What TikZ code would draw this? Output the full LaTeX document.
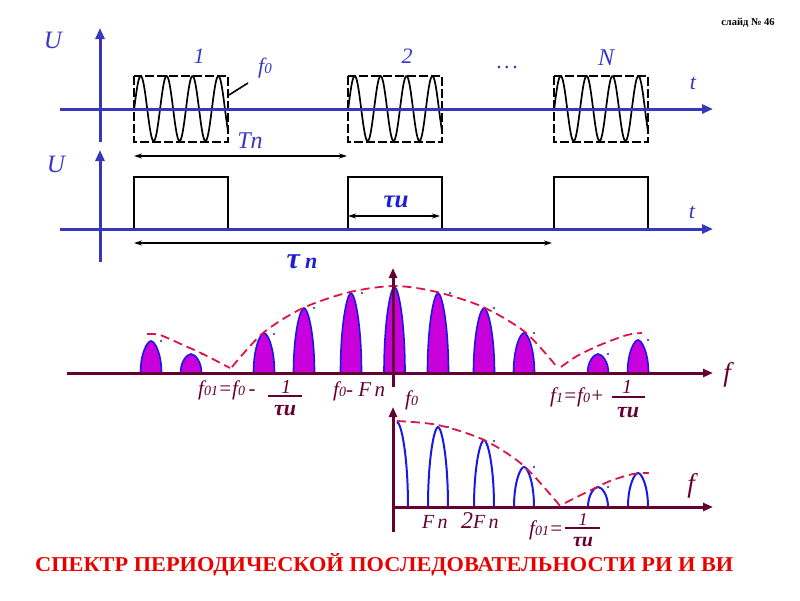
\documentclass[tikz,border=0pt]{standalone}
\usepackage{fontspec}
\usepackage{graphicx}
\setmainfont{Liberation Serif}
\usetikzlibrary{arrows.meta}

\definecolor{axblue}{RGB}{55,55,190}
\definecolor{lblue}{RGB}{55,55,200}
\definecolor{txtblue}{RGB}{30,30,210}
\definecolor{maroon}{RGB}{100,0,50}
\definecolor{lobefill}{RGB}{200,0,220}
\definecolor{lobeline}{RGB}{25,25,230}
\definecolor{envred}{RGB}{220,20,70}
\definecolor{titlered}{RGB}{235,0,0}

\newcommand\fs[1]{\fontsize{#1}{#1}\selectfont}

\begin{document}
\begin{tikzpicture}[x=1pt,y=-1pt,
  baxis/.style={draw=axblue, line width=3pt, -{Triangle[length=11pt,width=9pt]}},
  maxis/.style={draw=maroon, line width=3pt, -{Triangle[length=10pt,width=8pt]}},
  dimarrow/.style={draw=black, line width=1.4pt, {Stealth[length=8pt,width=5pt]}-{Stealth[length=8pt,width=5pt]}},
  dashbox/.style={draw=black, line width=2pt, dash pattern=on 9pt off 3pt},
  solidbox/.style={draw=black, line width=2pt},
  wave/.style={draw=black, line width=1.7pt},
  blab/.style={text=lblue, font=\fs{22}\itshape, inner sep=0pt, anchor=base},
  taulab/.style={text=txtblue, font=\fs{26}\bfseries\itshape, inner sep=0pt, anchor=base},
  mlab/.style={text=maroon, font=\fs{21}\itshape, inner sep=0pt, anchor=base west},
  mfrac/.style={text=maroon, font=\fs{20}\itshape, inner sep=0pt, anchor=base},
  mtau/.style={text=maroon, font=\fs{22}\bfseries\itshape, inner sep=0pt, anchor=base},
  bar/.style={draw=maroon, line width=1.5pt},
  env/.style={draw=envred, line width=1.8pt, dash pattern=on 9pt off 5pt},
  flobe/.style={fill=lobefill, draw=lobeline, line width=1.6pt},
  olobe/.style={draw=lobeline, line width=2pt},
  dotm/.style={fill=lobeline, draw=none},
]
\useasboundingbox (0,0) rectangle (800,600);

% ---------- top: radio pulses ----------
\foreach \L in {134,348,554} {
  \begin{scope}
    \clip (\L,74) rectangle (\L+94,144);
    \draw[wave] plot[domain=\L:\L+94, samples=140] (\x, {108.5-32.5*cos(13.9*(\x-\L-6.7))});
  \end{scope}
  \draw[dashbox] (\L,76) rectangle (\L+94,142);
}
\coordinate (ax1b) at (100,142); \coordinate (ax1t) at (100,28);
\coordinate (ax1l) at (60,109);  \coordinate (ax1r) at (713,109);
\draw[baxis] (ax1b) -- (ax1t);
\draw[baxis] (ax1l) -- (ax1r);

\coordinate (lA) at (229,95); \coordinate (lB) at (248,83);
\draw[line width=1.6pt] (lA) -- (lB);

\node[blab, font=\fs{25}\itshape] (U1) at (53,48) {U};
\node[blab] (n1) at (199,63) {1};
\node[blab] (n2) at (407,63) {2};
\node[blab, font=\fs{24}\itshape] (nN) at (606,65) {N};
\node[blab, font=\fs{22}] (dots) at (507,68) {.\hspace{2.5pt}.\hspace{2.5pt}.};
\node[blab] (t1) at (693,89) {t};
\node[blab, anchor=base west] (f0top) at (258,73) {f{\fs{15}0}};
\node[blab, font=\fs{24}\itshape] (Tn) at (250,148) {Tn};

\coordinate (TnA) at (134,156); \coordinate (TnB) at (347,156);
\draw[dimarrow] (TnA) -- (TnB);

% ---------- middle: video pulses ----------
\foreach \L in {134,348,554} {
  \draw[solidbox] (\L,177) rectangle (\L+94,229);
}
\coordinate (ax2b) at (100,262); \coordinate (ax2t) at (100,150);
\coordinate (ax2l) at (60,229);  \coordinate (ax2r) at (713,229);
\draw[baxis] (ax2b) -- (ax2t);
\draw[baxis] (ax2l) -- (ax2r);

\coordinate (tuA) at (348,216); \coordinate (tuB) at (440,216);
\draw[dimarrow] (tuA) -- (tuB);
\coordinate (tnA) at (134,243); \coordinate (tnB) at (552,243);
\draw[dimarrow] (tnA) -- (tnB);

\node[blab, font=\fs{25}\itshape] (U2) at (56,172) {U};
\node[blab] (t2) at (692,218) {t};
\node[taulab, font=\fs{25}\bfseries\itshape] (tauu) at (396,207) {τи};
\node[taulab, font=\fs{30}\bfseries\itshape] (taun) at (302,268) {τ\,{\fs{22}n}};

% ---------- spectrum of radio pulses ----------
\foreach \c/\t in {151/341,191/354,264/333,304/308,351/293,394.5/287,438/293,484/308,524/333,598/354,638/340} {
  \filldraw[flobe] ({\c-10.5},373) .. controls ({\c-10.5},{373-0.62*(373-\t)}) and ({\c-3.8},\t) .. (\c,\t)
     .. controls ({\c+3.8},\t) and ({\c+10.5},{373-0.62*(373-\t)}) .. ({\c+10.5},373);
}
\foreach \p in {(161,341),(202,354),(274,334),(314,308),(362,293),(450,293),(494,308),(534,333),(608,354),(648,340)} {
  \fill[dotm] \p circle (1.2);
}
\draw[env] plot[smooth] coordinates {(147,334) (160,335) (183,345) (203,354) (230,368)};
\draw[env] plot[smooth] coordinates {(232,367) (263,333) (303,308) (350,292) (395,286) (437,292) (483,307) (525,332) (557,367)};
\draw[env] plot[smooth] coordinates {(561,367) (577,356) (600,345) (627,335) (642,333)};

\coordinate (ax3l) at (67,373);  \coordinate (ax3r) at (713,373);
\coordinate (ax3b) at (393,387); \coordinate (ax3t) at (393,268);
\draw[maxis] (ax3l) -- (ax3r);
\draw[maxis] (ax3b) -- (ax3t);

\node[mlab] (f01) at (198,395) {f{\fs{14}01}=f{\fs{14}0}\,-};
\node[mfrac] (one1) at (286,393) {1};
\coordinate (b1a) at (268,396); \coordinate (b1b) at (302,396);
\draw[bar] (b1a) -- (b1b);
\node[mtau] (tau1) at (285,415) {τи};
\node[mlab] (f0Fn) at (333,396) {f{\fs{14}0}- F\,n};
\node[mlab] (f0c) at (405,405) {f{\fs{14}0}};
\node[mlab] (f1) at (550,402) {f{\fs{14}1}=f{\fs{14}0}+};
\node[mfrac] (one2) at (627,393) {1};
\coordinate (b2a) at (612,397); \coordinate (b2b) at (645,397);
\draw[bar] (b2a) -- (b2b);
\node[mtau] (tau2) at (628,417) {τи};
\node[mlab, font=\fs{27}\itshape, anchor=base] (fax1) at (727,381) {f};

% ---------- spectrum of video pulses ----------
\draw[olobe] (397,422) .. controls (401,422) and (408,{507-0.62*85}) .. (408,507);
\foreach \c/\t in {438/427,484/440,524/467,598/487,638/473} {
  \draw[olobe] ({\c-10},507) .. controls ({\c-10},{507-0.62*(507-\t)}) and ({\c-3.6},\t) .. (\c,\t)
     .. controls ({\c+3.6},\t) and ({\c+10},{507-0.62*(507-\t)}) .. ({\c+10},507);
}
\foreach \p in {(448,427),(494,441),(534,467),(608,487),(648,473)} {
  \fill[dotm] \p circle (1.2);
}
\draw[env] plot[smooth] coordinates {(397,421) (438,425) (484,440) (524,466) (561,507)};
\draw[env] plot[smooth] coordinates {(565,503) (587,492) (610,481) (633,474) (648,473)};

\coordinate (ax4l) at (393,507); \coordinate (ax4r) at (713,507);
\coordinate (ax4b) at (393,532); \coordinate (ax4t) at (393,407);
\draw[maxis] (ax4l) -- (ax4r);
\draw[maxis] (ax4b) -- (ax4t);

\node[mlab, font=\fs{20}\itshape] (Fn) at (422,528) {F\,n};
\node[mlab, font=\fs{20}\itshape] (twoFn) at (461,528) {{\fs{24}2}F\,n};
\node[mlab] (f01b) at (529,535) {f{\fs{14}01}=};
\node[mfrac, font=\fs{18}\itshape] (one3) at (583,525) {1};
\coordinate (b3a) at (565,528); \coordinate (b3b) at (600,528);
\draw[bar] (b3a) -- (b3b);
\node[mtau, font=\fs{20}\bfseries\itshape] (tau3) at (583,546) {τи};
\node[mlab, font=\fs{27}\itshape, anchor=base] (fax2) at (691,492) {f};

% ---------- texts ----------
\node[anchor=base west, text=titlered, inner sep=0pt] (title) at (35,571)
  {\resizebox{698pt}{18pt}{\fs{21}\bfseries СПЕКТР ПЕРИОДИЧЕСКОЙ ПОСЛЕДОВАТЕЛЬНОСТИ РИ И ВИ}};
\node[anchor=base, font=\fs{10.5}\bfseries, inner sep=0pt] (slide) at (748,25) {слайд № 46};
\end{tikzpicture}
\end{document}
